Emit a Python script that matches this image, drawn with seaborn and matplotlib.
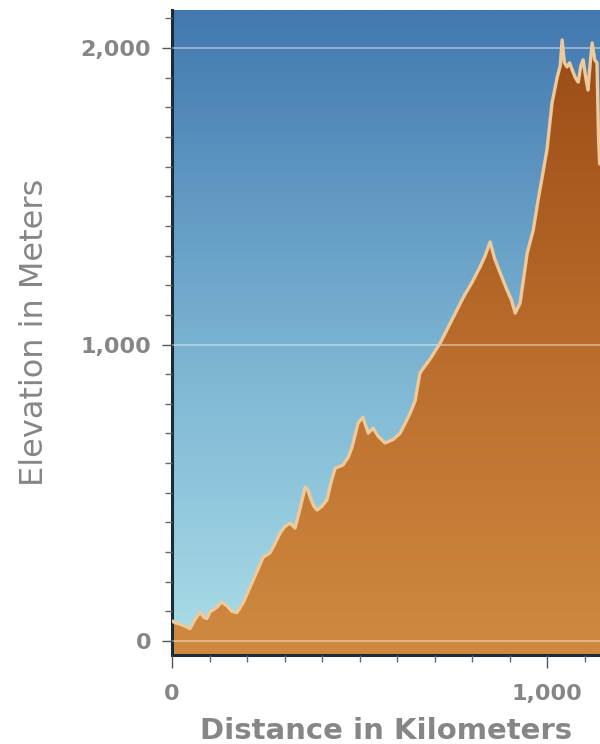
import numpy as np
import matplotlib
matplotlib.use("Agg")
import matplotlib.pyplot as plt
from matplotlib.colors import LinearSegmentedColormap
from matplotlib.patches import PathPatch
from matplotlib.ticker import MultipleLocator, FuncFormatter
import seaborn as sns

# ---- data ----
distance_km = [0, 8, 20, 35, 48, 60, 75, 85, 93, 102, 110, 120, 133, 145, 160, 173,
               190, 208, 225, 243, 261, 275, 288, 300, 315, 328, 340, 355, 362, 368,
               378, 387, 400, 413, 425, 435, 456, 470, 480, 496, 509, 523, 536, 550,
               568, 590, 608, 620, 635, 648, 661, 690, 715, 745, 777, 800, 821, 835,
               848, 860, 875, 893, 905, 915, 928, 947, 963, 976, 989, 1000, 1013,
               1027, 1035, 1040, 1046, 1053, 1060, 1067, 1075, 1083, 1090, 1096,
               1103, 1109, 1115, 1120, 1127, 1133, 1137, 1140, 1150]
elevation_m = [68, 62, 58, 50, 42, 70, 98, 80, 76, 100, 105, 115, 132, 120, 100, 96,
               130, 182, 230, 283, 297, 330, 364, 385, 398, 381, 440, 519, 510, 486,
               455, 442, 455, 476, 540, 583, 594, 620, 654, 735, 755, 701, 718, 690,
               668, 680, 701, 730, 769, 810, 904, 955, 1005, 1080, 1160, 1210, 1261,
               1300, 1346, 1290, 1241, 1184, 1150, 1106, 1140, 1309, 1386, 1487, 1580,
               1660, 1814, 1902, 1940, 2027, 1950, 1936, 1950, 1926, 1900, 1885,
               1940, 1960, 1900, 1858, 1950, 2017, 1960, 1949, 1700, 1610, 1600]
y_major_ticks = [0, 1000, 2000]
x_major_ticks = [0, 1000]
x_label = "Distance in Kilometers"
y_label = "Elevation in Meters"

XMIN, XMAX = 0, 1141
YMIN, YMAX = -47, 2128

sns.set_style("white")
plt.rcParams["font.family"] = ["DejaVu Sans"]

fig = plt.figure(figsize=(6, 7.44), dpi=100)
ax = fig.add_axes([172 / 600, 1 - 655 / 744, 1 - 172 / 600, (655 - 10) / 744])
ax.set_autoscale_on(False)
ax.set_xlim(XMIN, XMAX)
ax.set_ylim(YMIN, YMAX)

# sky gradient background
sky = LinearSegmentedColormap.from_list("sky", ["#aadee8", "#78b0d0", "#4378b0"])
grad = np.linspace(0, 1, 256).reshape(-1, 1)
ax.imshow(grad, extent=[0, 1, 0, 1], transform=ax.transAxes, origin="lower",
          aspect="auto", cmap=sky, zorder=0, interpolation="bilinear")

# area fill gradient clipped to profile
poly = ax.fill_between(distance_km, elevation_m, YMIN, color="none", linewidth=0, zorder=1)
path = poly.get_paths()[0]
patch = PathPatch(path, transform=ax.transData, facecolor="none", edgecolor="none")
ax.add_patch(patch)
earth = LinearSegmentedColormap.from_list("earth", ["#cf8a40", "#b96b2b", "#974914"])
im = ax.imshow(grad, extent=[XMIN, XMAX, YMIN, YMAX], origin="lower", aspect="auto",
               cmap=earth, zorder=1, interpolation="bilinear")
im.set_clip_path(patch)

# profile line
sns.lineplot(x=distance_km, y=elevation_m, color="#ecca9c", linewidth=2.4, ax=ax,
             zorder=3, sort=False)

ax.set_xlim(XMIN, XMAX)
ax.set_ylim(YMIN, YMAX)

# grid
ax.set_axisbelow(False)
ax.set_yticks(y_major_ticks)
ax.set_xticks(x_major_ticks)
ax.yaxis.set_minor_locator(MultipleLocator(100))
ax.xaxis.set_minor_locator(MultipleLocator(100))
ax.grid(axis="y", which="major", color="white", alpha=0.4, linewidth=1.4)
ax.grid(axis="x", visible=False)

fmt = FuncFormatter(lambda v, p: f"{v:,.0f}")
ax.yaxis.set_major_formatter(fmt)
ax.xaxis.set_major_formatter(fmt)

for s in ["top", "right"]:
    ax.spines[s].set_visible(False)
for s in ["left", "bottom"]:
    ax.spines[s].set_color("#1d2b36")
    ax.spines[s].set_linewidth(2.2)

ax.tick_params(axis="y", which="major", direction="out", length=7, width=1,
               color="#555555", pad=8, labelsize=16, labelcolor="#868686", left=True)
ax.tick_params(axis="y", which="minor", direction="out", length=5, width=1,
               color="#666666", left=True)
ax.tick_params(axis="x", which="major", direction="out", length=9, width=1,
               color="#555555", pad=12, labelsize=16, labelcolor="#868686", bottom=True)
ax.tick_params(axis="x", which="minor", direction="out", length=5, width=1,
               color="#666666", bottom=True)
for lab in ax.get_xticklabels() + ax.get_yticklabels():
    lab.set_fontweight("bold")

ax.set_xlabel(x_label, fontsize=21, fontweight="bold", color="#868686", labelpad=9)
ax.set_ylabel(y_label, fontsize=23, color="#868686", labelpad=22)

fig.savefig("out.png", dpi=100)
